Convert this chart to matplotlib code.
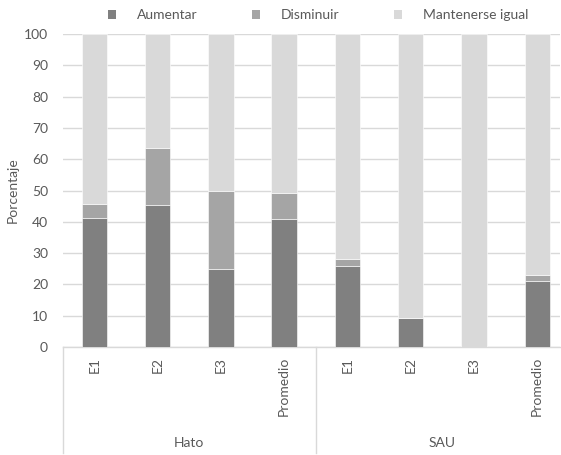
import matplotlib
matplotlib.use("Agg")
import matplotlib.pyplot as plt
from matplotlib.patches import Patch
from matplotlib.lines import Line2D
import numpy as np

plt.rcParams['font.family'] = ['Lato', 'DejaVu Sans']

categories = ["E1", "E2", "E3", "Promedio", "E1", "E2", "E3", "Promedio"]
groups = ["Hato", "SAU"]
aumentar = [41.2, 45.5, 25.0, 41.0, 26.0, 9.2, 0.0, 21.2]
disminuir = [4.5, 18.2, 25.0, 8.2, 2.2, 0.0, 0.0, 1.8]
mantenerse = [100 - a - d for a, d in zip(aumentar, disminuir)]
series_names = ["Aumentar", "Disminuir", "Mantenerse igual"]
colors = ["#808080", "#a5a5a5", "#d9d9d9"]
text_color = "#595959"
grid_color = "#d9d9d9"
fs = 10

fig = plt.figure(figsize=(5.61, 4.55), dpi=100)
ax = fig.add_axes([63.3/561, 1-347/455, (560-63.3)/561, 313/455])

x = np.arange(len(categories))
w = 0.4
ax.bar(x, aumentar, w, color=colors[0], edgecolor="white", linewidth=0.4, zorder=3)
ax.bar(x, disminuir, w, bottom=aumentar, color=colors[1], edgecolor="white", linewidth=0.4, zorder=3)
bottom2 = [a + d for a, d in zip(aumentar, disminuir)]
ax.bar(x, mantenerse, w, bottom=bottom2, color=colors[2], edgecolor="white", linewidth=0.4, zorder=3)

ax.set_xlim(-0.49, 7.36)
ax.set_ylim(0, 100)
ax.set_yticks(range(0, 101, 10))
ax.yaxis.grid(True, color=grid_color, linewidth=1.0, zorder=0)
ax.set_axisbelow(True)
ax.tick_params(axis='y', length=0, pad=11, labelsize=fs, labelcolor=text_color)
ax.set_xticks([])
for s in ["top", "right", "left"]:
    ax.spines[s].set_visible(False)
ax.spines["bottom"].set_color(grid_color)
ax.spines["bottom"].set_linewidth(1.0)

ax.set_ylabel("Porcentaje", fontsize=fs, color=text_color)
ax.yaxis.set_label_coords(-45/496.7, 0.5)

trans = ax.get_xaxis_transform()
for xi, lab in zip(x, categories):
    ax.text(xi, -10/313, lab, rotation=90, ha='center', va='top',
            fontsize=fs, color=text_color, transform=trans)
for gi, g in enumerate(groups):
    ax.text(gi * 4 + 1.5, -96/313, g, ha='center', va='center',
            fontsize=fs, color=text_color, transform=trans)
for xv in [-0.5, 3.5]:
    ax.add_line(Line2D([xv, xv], [0, -106/313], transform=trans, color=grid_color,
                       linewidth=1.0, clip_on=False))

handles = [Patch(facecolor=c, edgecolor='none') for c in colors]
leg = fig.legend(handles, series_names, loc='center', bbox_to_anchor=(318/561, 1-15/455),
                 ncol=3, frameon=False, fontsize=fs, handlelength=0.6, handleheight=0.6,
                 handletextpad=1.5, columnspacing=3.9)
for t in leg.get_texts():
    t.set_color(text_color)

fig.savefig("out.png", dpi=100)
